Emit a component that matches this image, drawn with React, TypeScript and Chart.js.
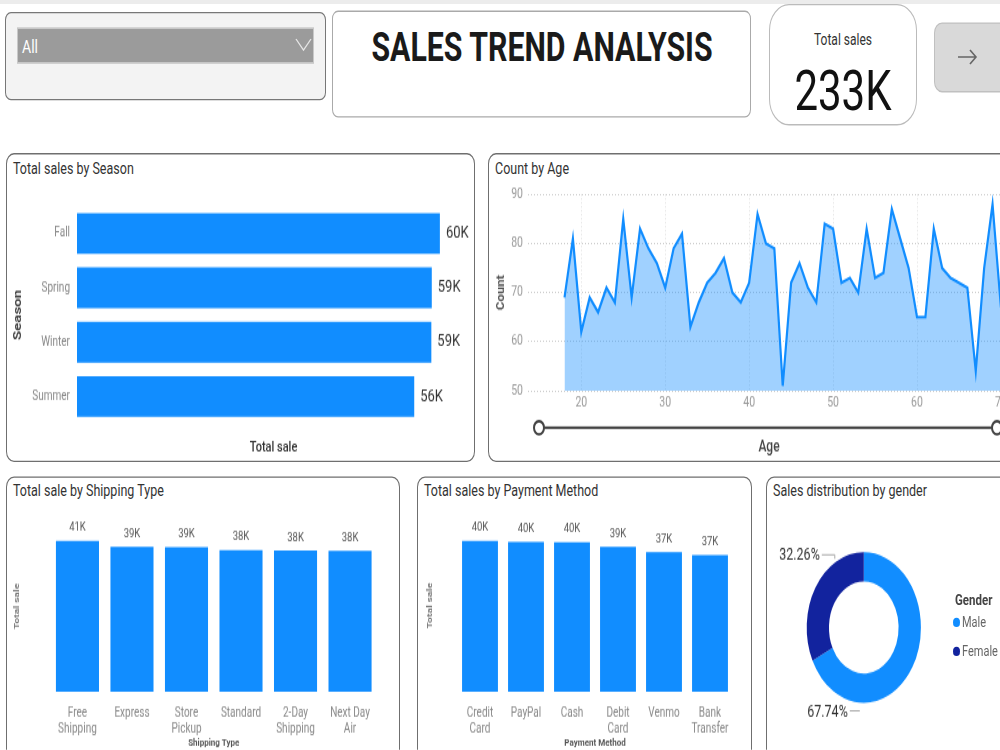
import React, { useEffect, useRef } from 'react';
import { Chart, registerables } from 'chart.js';

Chart.register(...registerables);
Chart.defaults.font.family = 'Roboto, "Noto Sans", sans-serif';

// ---------- data ----------
const seasons = ['Fall', 'Spring', 'Winter', 'Summer'];
const seasonSales = [60018, 58679, 58607, 55777];

const ages = [18, 19, 20, 21, 22, 23, 24, 25, 26, 27, 28, 29, 30, 31, 32, 33, 34, 35, 36, 37, 38, 39, 40, 41, 42, 43, 44, 45, 46, 47, 48, 49, 50, 51, 52, 53, 54, 55, 56, 57, 58, 59, 60, 61, 62, 63, 64, 65, 66, 67, 68, 69, 70];
const ageCounts = [69, 81, 62, 69, 66, 71, 68, 85, 69, 83, 79, 76, 71, 79, 82, 63, 68, 72, 74, 77, 70, 68, 72, 86, 80, 79, 51, 72, 76, 71, 68, 84, 83, 72, 73, 70, 83, 73, 74, 87, 81, 75, 65, 65, 83, 75, 73, 72, 71, 54, 75, 88, 67];
const ageTicks = [20, 30, 40, 50, 60, 70];
const countTicks = [50, 60, 70, 80, 90];

const shippingTypes = [['Free', 'Shipping'], ['Express'], ['Store', 'Pickup'], ['Standard'], ['2-Day', 'Shipping'], ['Next Day', 'Air']];
const shippingSales = [40660, 39110, 38950, 38220, 38060, 37980];

const paymentMethods = [['Credit', 'Card'], ['PayPal'], ['Cash'], ['Debit', 'Card'], ['Venmo'], ['Bank', 'Transfer']];
const paymentSales = [40300, 40050, 39970, 38780, 37360, 36560];

const genders = ['Male', 'Female'];
const genderShare = [67.74, 32.26];
const genderColors = ['#118DFF', '#12239E'];

const slicerValue = 'All';
const dashboardTitle = 'SALES TREND ANALYSIS';
const kpiLabel = 'Total sales';
const kpiValue = '233K';

// ---------- helpers ----------
const S = 1.32; // vertical stretch of the reference
const u = (v: number) => v / S;
const BLUE = '#118DFF';
const FONT = 'Roboto, "Noto Sans", sans-serif';
const fmtK = (v: number) => `${Math.round(v / 1000)}K`;

const barLabelPlugin = {
  id: 'barLabels',
  afterDatasetsDraw(chart: any, _a: any, opts: any) {
    const { ctx } = chart;
    const meta = chart.getDatasetMeta(0);
    const data = chart.data.datasets[0].data;
    ctx.save();
    ctx.font = `${opts.weight || 400} ${opts.size}px ${FONT}`;
    ctx.fillStyle = opts.color;
    ctx.textBaseline = 'middle';
    meta.data.forEach((bar: any, i: number) => {
      const t = fmtK(data[i]);
      if (opts.horizontal) {
        ctx.textAlign = 'left';
        ctx.fillText(t, bar.x + opts.offset, bar.y);
      } else {
        ctx.textAlign = 'center';
        ctx.fillText(t, bar.x, bar.y - opts.offset);
      }
    });
    ctx.restore();
  },
};

const donutLabelPlugin = {
  id: 'donutLabels',
  afterDatasetsDraw(chart: any) {
    const { ctx } = chart;
    const meta = chart.getDatasetMeta(0);
    const data = chart.data.datasets[0].data;
    ctx.save();
    ctx.font = `400 12.5px ${FONT}`;
    ctx.fillStyle = '#333';
    ctx.strokeStyle = '#aaa';
    ctx.lineWidth = 1;
    ctx.textBaseline = 'middle';
    ctx.textAlign = 'right';
    meta.data.forEach((arc: any, i: number) => {
      const p = arc.getProps(['x', 'y', 'startAngle', 'endAngle', 'outerRadius'], true);
      const mid = (p.startAngle + p.endAngle) / 2;
      const upper = Math.sin(mid) < 0;
      const ly = upper ? p.y - p.outerRadius + 2 : p.y + p.outerRadius + 6;
      const x0 = upper ? p.x - 42 : p.x - 14;
      const x1 = upper ? p.x - 29 : p.x - 4;
      ctx.beginPath();
      ctx.moveTo(x0, ly);
      ctx.lineTo(x1, ly);
      if (upper) ctx.lineTo(x1, ly + 3);
      ctx.stroke();
      ctx.fillText(`${Number(data[i]).toFixed(2)}%`, x0 - 2, ly + 1);
    });
    ctx.restore();
  },
};

function ChartBox({ left, top, width, height, make }: any) {
  const ref = useRef<HTMLCanvasElement>(null);
  useEffect(() => {
    const chart = new Chart(ref.current as HTMLCanvasElement, make());
    return () => chart.destroy();
  }, []);
  return (
    <canvas
      ref={ref}
      width={width}
      height={height}
      style={{ position: 'absolute', left, top, width, height }}
    />
  );
}

function Box({ x, y, w, h, style }: any) {
  return (
    <div
      style={{
        position: 'absolute',
        left: x,
        top: u(y),
        width: w,
        height: u(h),
        boxSizing: 'border-box',
        ...style,
      }}
    />
  );
}

function Txt({ x, y, size, weight = 400, color = '#333', align = 'left', w = 400, children }: any) {
  const L = size * 1.2;
  const left = align === 'center' ? x - w / 2 : align === 'right' ? x - w : x;
  return (
    <div
      style={{
        position: 'absolute',
        left,
        top: u(y) - L / 2,
        width: w,
        height: L,
        lineHeight: `${L}px`,
        fontSize: size,
        fontWeight: weight,
        color,
        textAlign: align,
        whiteSpace: 'nowrap',
      }}
    >
      {children}
    </div>
  );
}

const noLegend = { legend: { display: false }, tooltip: { enabled: false } };

// ---------- chart configs ----------
const seasonConfig = () => ({
  type: 'bar',
  data: {
    labels: seasons,
    datasets: [{ data: seasonSales, backgroundColor: BLUE, barPercentage: 0.75, categoryPercentage: 1 }],
  },
  options: {
    indexAxis: 'y',
    responsive: false,
    animation: false,
    layout: { padding: { top: 16.25, right: 4, left: 0, bottom: 0 } },
    plugins: { ...noLegend, barLabels: { horizontal: true, offset: 6, size: 13, color: '#333' } },
    scales: {
      x: {
        min: 0,
        max: 65000,
        ticks: { display: false },
        grid: { display: false, drawTicks: false },
        border: { display: false },
        title: { display: true, text: 'Total sale', color: '#333', font: { size: 11, weight: '500' }, padding: { top: 0, bottom: 2 } },
        afterFit: (s: any) => { s.height = 27; },
      },
      y: {
        ticks: { color: '#888', font: { size: 10 }, padding: 7 },
        grid: { display: false, drawTicks: false },
        border: { display: false },
        title: { display: true, text: 'Season', color: '#444', font: { size: 11.5, weight: 'bold' }, padding: { top: 3.1, bottom: 0 } },
        afterFit: (s: any) => { s.width = 69; },
      },
    },
  },
  plugins: [barLabelPlugin],
});

const ageConfig = () => ({
  type: 'line',
  data: {
    datasets: [{
      data: ages.map((a, i) => ({ x: a, y: ageCounts[i] })),
      borderColor: BLUE,
      borderWidth: 2.2,
      backgroundColor: 'rgba(17,141,255,0.4)',
      fill: 'start',
      pointRadius: 0,
      tension: 0,
    }],
  },
  options: {
    responsive: false,
    animation: false,
    layout: { padding: { top: 9.7, right: 2, left: 0, bottom: 0 } },
    plugins: { ...noLegend },
    scales: {
      x: {
        type: 'linear',
        min: 13.65,
        max: 71.08,
        afterBuildTicks: (s: any) => { s.ticks = ageTicks.map((v) => ({ value: v })); },
        ticks: { color: '#999', font: { size: 10.5 }, padding: 3.3 },
        grid: { color: '#e0e0e0', drawTicks: false },
        border: { display: false, dash: [1, 2] },
        title: { display: true, text: 'Age', color: '#444', font: { size: 12, weight: '500' }, padding: { top: 0, bottom: 1.4 } },
        afterFit: (s: any) => { s.height = 52; },
      },
      y: {
        min: 50,
        max: 90,
        afterBuildTicks: (s: any) => { s.ticks = countTicks.map((v) => ({ value: v })); },
        ticks: { color: '#999', font: { size: 10.5 }, padding: 5 },
        grid: { color: '#cccccc', drawTicks: false },
        border: { display: false, dash: [1, 2] },
        title: { display: true, text: 'Count', color: '#555', font: { size: 10, weight: 'bold' }, padding: { top: 5, bottom: 0 } },
        afterFit: (s: any) => { s.width = 38; },
      },
    },
  },
});

const columnConfig = (labels: any, values: number[], xTitle: string, yw: number, ytp: number, pad: any, barPct: number) => () => ({
  type: 'bar',
  data: {
    labels,
    datasets: [{ data: values, backgroundColor: BLUE, barPercentage: barPct, categoryPercentage: 1 }],
  },
  options: {
    responsive: false,
    animation: false,
    layout: { padding: pad },
    plugins: { ...noLegend, barLabels: { horizontal: false, offset: 9.8, size: 9.5, color: '#555' } },
    scales: {
      x: {
        ticks: { color: '#888', font: { size: 10 }, padding: 10.2, maxRotation: 0, autoSkip: false },
        grid: { display: false, drawTicks: false },
        border: { display: false },
        title: { display: true, text: xTitle, color: '#555', font: { size: 8, weight: 'bold' }, padding: { top: 0, bottom: 0 } },
        afterFit: (s: any) => { s.height = 44; },
      },
      y: {
        min: 0,
        max: 46000,
        ticks: { display: false },
        grid: { display: false, drawTicks: false },
        border: { display: false },
        title: { display: true, text: 'Total sale', color: '#777', font: { size: 8, weight: 'bold' }, padding: { top: ytp, bottom: 0 } },
        afterFit: (s: any) => { s.width = yw; },
      },
    },
  },
  plugins: [barLabelPlugin],
});

const shippingConfig = columnConfig(shippingTypes, shippingSales, 'Shipping Type', 42.2, 4.2, { top: 12.8, right: 18.7, left: 0, bottom: 0 }, 0.79);
const paymentConfig = columnConfig(paymentMethods, paymentSales, 'Payment Method', 38, 6.2, { top: 11.7, right: 19, left: 0, bottom: 0 }, 0.78);

const donutConfig = () => ({
  type: 'doughnut',
  data: {
    labels: genders,
    datasets: [{ data: genderShare, backgroundColor: genderColors, borderWidth: 0 }],
  },
  options: {
    responsive: false,
    animation: false,
    cutout: '61%',
    layout: { padding: { left: 36.7, right: 37.1, top: 23.3, bottom: 23.5 } },
    plugins: { ...noLegend },
  },
  plugins: [donutLabelPlugin],
});

// ---------- app ----------
const card = { background: '#fff', border: '1.5px solid #6f6f6f', borderRadius: 8 };

export default function App() {
  return (
    <div
      style={{
        position: 'fixed',
        left: 0,
        top: 0,
        width: 1000,
        height: u(750),
        overflow: 'hidden',
        transform: `scaleY(${S})`,
        transformOrigin: '0 0',
        background: '#fff',
        fontFamily: FONT,
      }}
    >
      <Box x={0} y={0} w={1000} h={4} style={{ background: '#ececec' }} />

      {/* slicer */}
      <Box x={5} y={12} w={321} h={88} style={{ background: '#f3f3f3', border: '1.5px solid #777', borderRadius: 6 }} />
      <Box x={17} y={28} w={297} h={35} style={{ background: '#9b9b9b', border: '1px solid #c8c8c8' }} />
      <Txt x={22} y={47} size={14} color="#fff">{slicerValue}</Txt>

      {/* title */}
      <Box x={332} y={11} w={419} h={107} style={{ background: '#fff', border: '1px solid #aaa', borderRadius: 6 }} />
      <Txt x={542} y={48} size={30.3} weight={700} color="#1a1a1a" align="center" w={410}>{dashboardTitle}</Txt>

      {/* KPI */}
      <Box x={769} y={4} w={148} h={122} style={{ background: '#fff', border: '1px solid #bbb', borderRadius: 20 }} />
      <Txt x={843} y={40} size={12} color="#333" align="center" w={140}>{kpiLabel}</Txt>
      <Txt x={843} y={92} size={42} color="#111" align="center" w={140}>{kpiValue}</Txt>

      {/* button */}
      <Box x={934} y={22} w={90} h={70} style={{ background: '#d9d9d9', border: '1px solid #c0c0c0', borderRadius: 8 }} />

      {/* cards */}
      <Box x={6} y={153} w={469} h={309} style={card} />
      <Txt x={13} y={168} size={12.5} color="#333">Total sales by Season</Txt>
      <Box x={488} y={153} w={560} h={309} style={card} />
      <Txt x={495} y={168} size={12.5} color="#333">Count by Age</Txt>
      <Box x={6} y={476} w={394} h={320} style={card} />
      <Txt x={13} y={491} size={12.5} color="#333">Total sale by Shipping Type</Txt>
      <Box x={417} y={476} w={335} h={320} style={card} />
      <Txt x={424} y={491} size={12.5} color="#333">Total sales by Payment Method</Txt>
      <Box x={766} y={476} w={280} h={320} style={card} />
      <Txt x={773} y={491} size={12.5} color="#333">Sales distribution by gender</Txt>

      <ChartBox left={8} top={140} width={466} height={208} make={seasonConfig} />
      <ChartBox left={490} top={136} width={522} height={212} make={ageConfig} />
      <ChartBox left={8} top={382} width={388} height={186} make={shippingConfig} />
      <ChartBox left={419} top={382} width={333} height={186} make={paymentConfig} />
      <ChartBox left={770} top={395} width={188} height={161} make={donutConfig} />

      {/* age range slider */}
      <Box x={539} y={426.5} w={458} h={3} style={{ background: '#444' }} />
      <div style={{ position: 'absolute', left: 533, top: u(428) - 6, width: 12, height: 12, boxSizing: 'border-box', borderRadius: '50%', border: '2px solid #444', background: '#fff' }} />
      <div style={{ position: 'absolute', left: 991, top: u(428) - 6, width: 12, height: 12, boxSizing: 'border-box', borderRadius: '50%', border: '2px solid #444', background: '#fff' }} />

      {/* donut legend */}
      <Txt x={955} y={601} size={11.5} weight={700} color="#444">Gender</Txt>
      {genders.map((g, i) => (
        <React.Fragment key={g}>
          <div style={{ position: 'absolute', left: 953, top: u(623 + i * 28) - 3.5, width: 7, height: 7, borderRadius: '50%', background: genderColors[i] }} />
          <Txt x={962} y={623 + i * 28} size={11} color="#666">{g}</Txt>
        </React.Fragment>
      ))}

      <svg
        style={{ position: 'absolute', left: 0, top: 0 }}
        width={1000}
        height={u(750)}
        viewBox="0 0 1000 750"
        preserveAspectRatio="none"
      >
        <polyline points="296,39 303.5,50 311,39" fill="none" stroke="#e6e6e6" strokeWidth={1.3} />
        <path d="M958 57 H976 M970 50 L976 57 L970 64" stroke="#666" strokeWidth={1.6} fill="none" />
      </svg>
    </div>
  );
}
